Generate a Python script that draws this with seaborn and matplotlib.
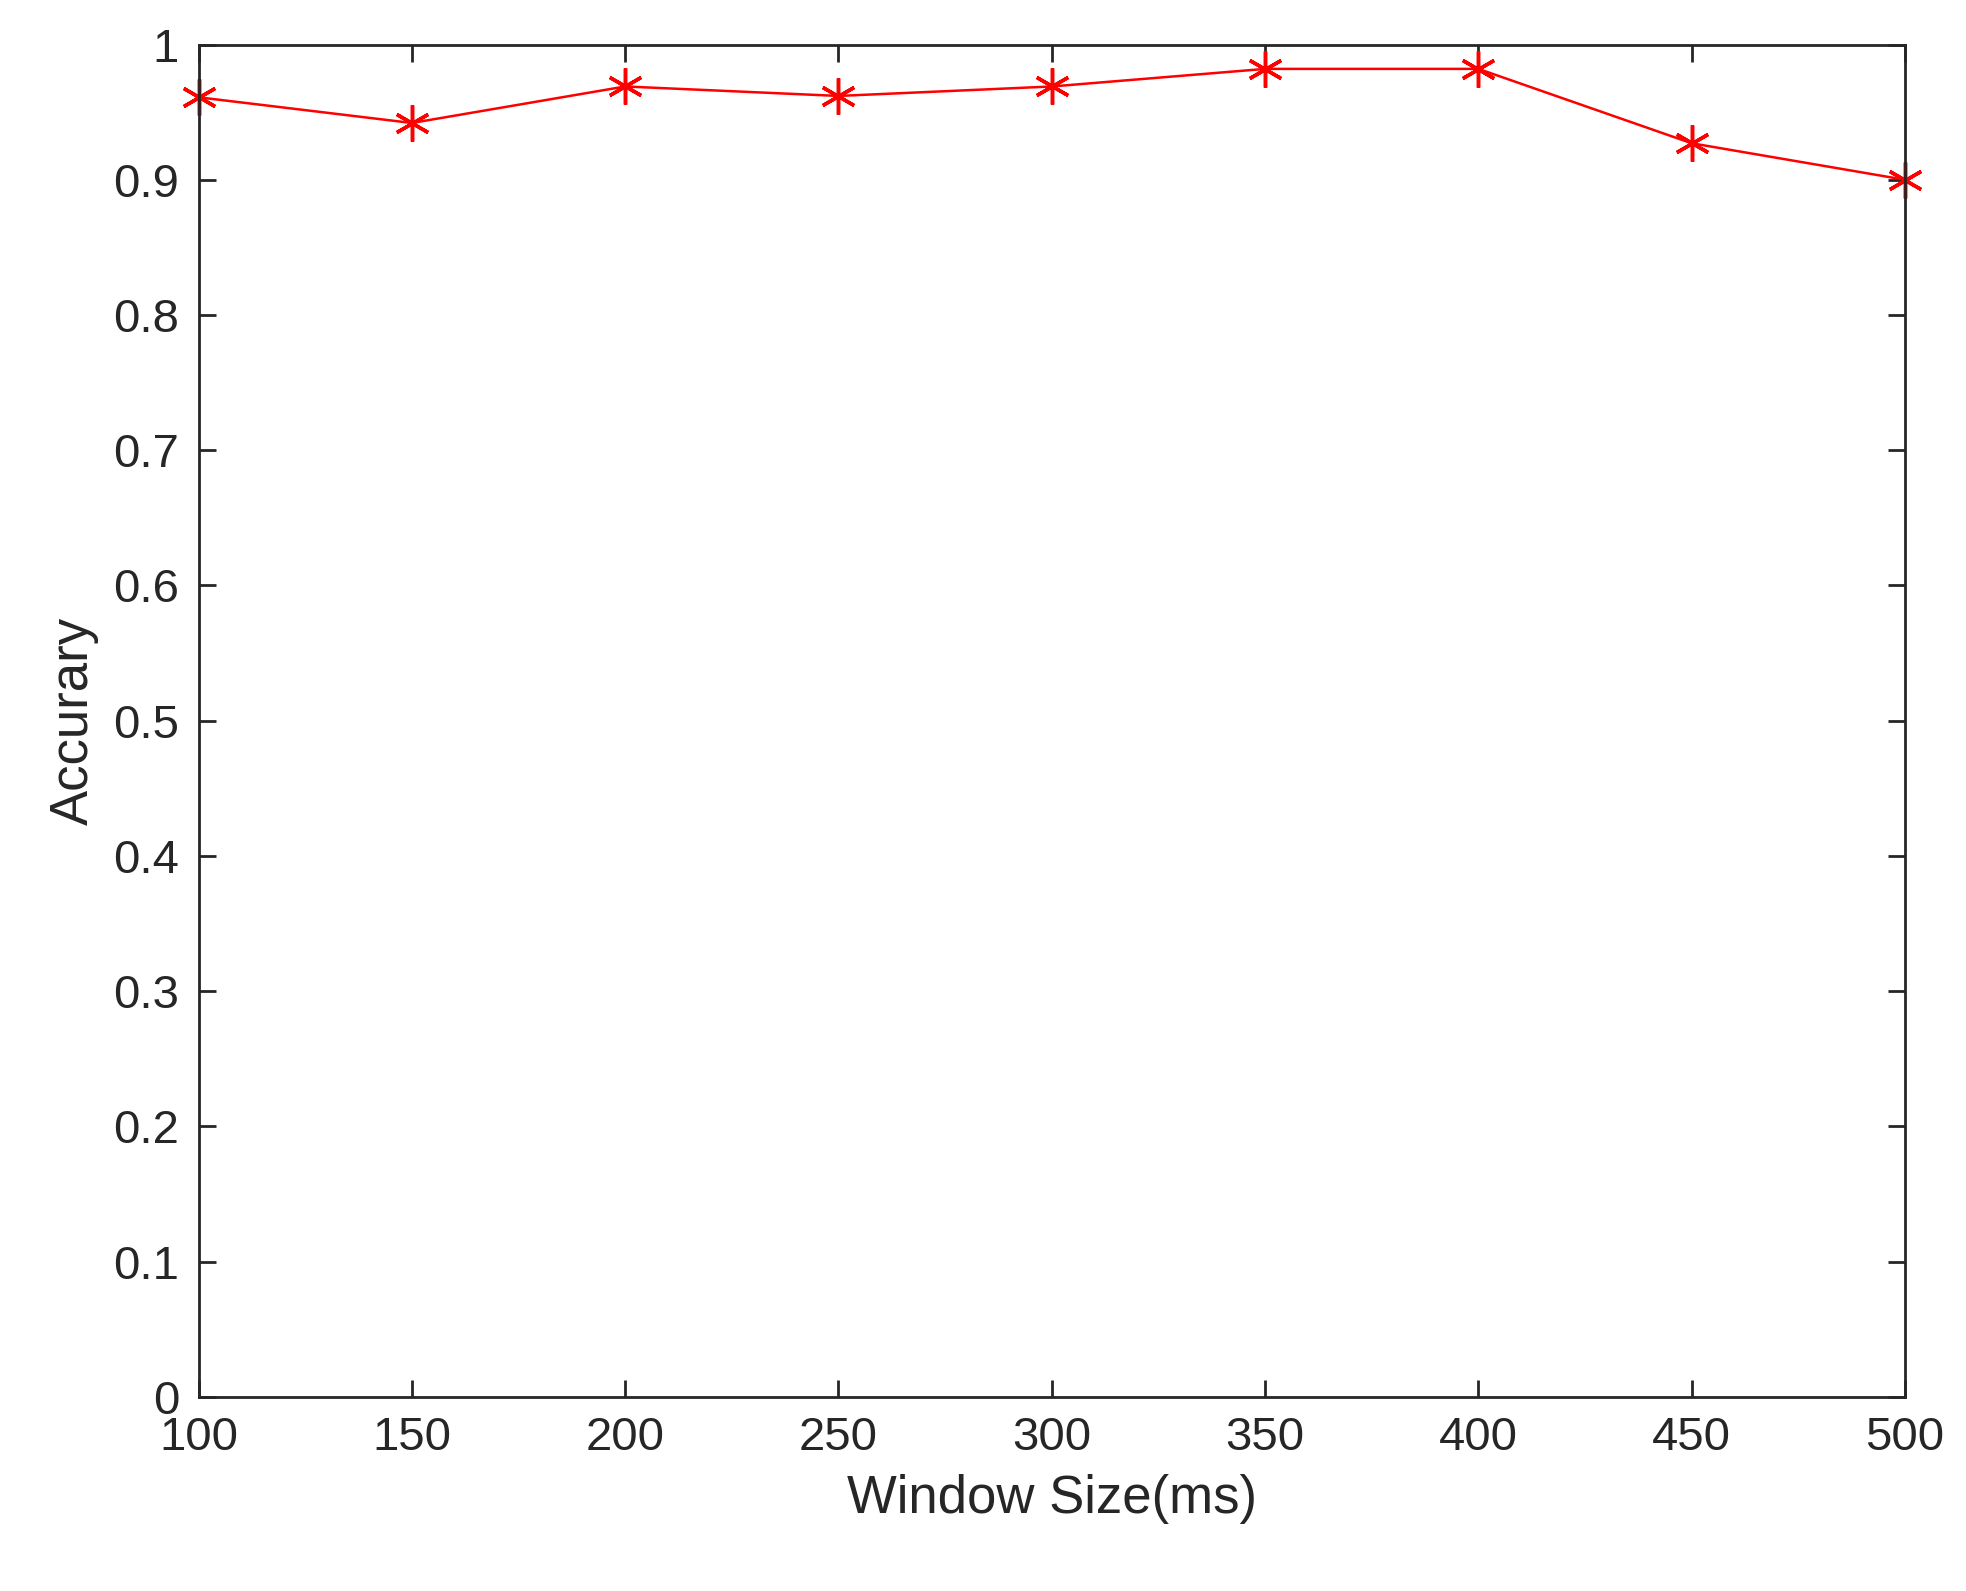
import matplotlib
matplotlib.use("Agg")
import matplotlib.pyplot as plt
import seaborn as sns
import pandas as pd

# fenstergroessen und genauigkeit
window_size = [100, 150, 200, 250, 300, 350, 400, 450, 500]
accuracy = [0.961, 0.942, 0.969, 0.962, 0.969, 0.982, 0.982, 0.927, 0.900]

df = pd.DataFrame({"Window": window_size, "Acc": accuracy})

sns.set_style("white")
plt.rcParams["font.family"] = ["Liberation Sans", "DejaVu Sans"]

fig = plt.figure(figsize=(19.66, 15.91), dpi=100)
ax = fig.add_axes([0.101, 0.122, 0.868, 0.85])

sns.lineplot(data=df, x="Window", y="Acc", color="red", marker=(6, 2, 0),
             markersize=26, markeredgewidth=2.5, markeredgecolor="red",
             linewidth=1.8, clip_on=False, ax=ax)

ax.set_xlim(100, 500)
ax.set_ylim(0, 1)
ax.set_xticks(window_size)
ax.set_yticks([i / 10 for i in range(11)])
ax.set_yticklabels(["0", "0.1", "0.2", "0.3", "0.4", "0.5", "0.6", "0.7", "0.8", "0.9", "1"])
ax.tick_params(direction="in", length=12, width=2, labelsize=34,
               top=True, right=True, bottom=True, left=True,
               colors="#262626", pad=14)
for s in ax.spines.values():
    s.set_linewidth(2)
    s.set_color("#262626")
ax.set_xlabel("Window Size(ms)", fontsize=38, color="#262626", labelpad=10)
ax.set_ylabel("Accurary", fontsize=38, color="#262626", labelpad=10)

plt.savefig("out.png", dpi=100)
